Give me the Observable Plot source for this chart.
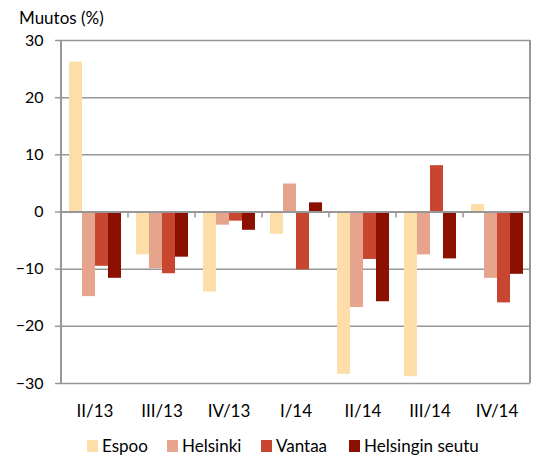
<!DOCTYPE html>
<html><head><meta charset="utf-8">
<script src="https://cdn.jsdelivr.net/npm/d3@7"></script>
<script src="https://cdn.jsdelivr.net/npm/@observablehq/plot@0.6"></script>
<style>
body{margin:0;background:#fff;font-family:Lato,sans-serif;width:538px;color:#000;}
#title{height:30px;position:relative;}
#title span{position:absolute;left:19px;top:8px;font-size:17px;line-height:20px;}
#legend{height:32px;position:relative;}
#legend .item{position:absolute;top:11px;display:flex;align-items:center;font-size:17px;line-height:20px;}
#legend .sw{width:11px;height:12px;margin-right:4px;}
</style></head><body>
<div id="title"><span>Muutos (%)</span></div>
<div id="chart"></div>
<div id="legend"></div>
<script>
const quarters = ["II/13","III/13","IV/13","I/14","II/14","III/14","IV/14"];
const series = ["Espoo","Helsinki","Vantaa","Helsingin seutu"];
const espoo = [26.2,-7.5,-14.0,-3.9,-28.4,-28.8,1.3];
const helsinki = [-14.8,-9.9,-2.3,4.9,-16.7,-7.5,-11.6];
const vantaa = [-9.5,-10.8,-1.6,-10.1,-8.3,8.1,-15.9];
const seutu = [-11.6,-7.9,-3.2,1.6,-15.7,-8.2,-10.9];
const colors = ["#FDDEA8","#E5A48B","#C8462F","#8B1000"];
const yTicks = [-30,-20,-10,0,10,20,30];

const seriesValues = [espoo, helsinki, vantaa, seutu];
const data = quarters.flatMap((q,i)=>series.map((s,j)=>({quarter:q, series:s, value:seriesValues[j][i]})));

const grid = "#979797";
const plot = Plot.plot({
  width:538, height:395, marginTop:10, marginBottom:42, marginLeft:61, marginRight:8,
  style:{fontFamily:"Lato, sans-serif", fontSize:"17px", color:"#000", background:"#fff", overflow:"visible"},
  fx:{domain:quarters, padding:0, label:null},
  x:{domain:series, paddingInner:0, paddingOuter:0.48, axis:null},
  y:{domain:[-30,30], ticks:yTicks, label:null},
  color:{domain:series, range:colors},
  marks:[
    Plot.ruleY(yTicks.filter(d=>d!==0), {stroke:grid, strokeWidth:1.5}),
    Plot.barY(data, {fx:"quarter", x:"series", y:"value", fill:"series"}),
    Plot.ruleY([0], {stroke:grid, strokeWidth:2}),
    Plot.axisY(yTicks, {tickSize:6, tickPadding:12, stroke:grid, strokeWidth:1.5, fontSize:16, label:null}),
    Plot.axisFx({anchor:"bottom", tickSize:0, tickPadding:21, fontSize:17, label:null})
  ]
});
document.getElementById("chart").appendChild(plot);

const fx = plot.scale("fx"), y = plot.scale("y");
const svg = d3.select(plot.tagName.toLowerCase()==="svg" ? plot : plot.querySelector("svg"));
const y0 = y.apply(0), yTop = y.apply(30), yBot = y.apply(-30);
const [r0, r1] = fx.range;
const g = svg.append("g").attr("stroke", grid).attr("fill","none");
g.append("line").attr("x1",r0).attr("x2",r0).attr("y1",yTop).attr("y2",yBot).attr("stroke-width",2);
g.append("line").attr("x1",r1).attr("x2",r1).attr("y1",yTop).attr("y2",yBot).attr("stroke-width",2);
quarters.slice(1).forEach(q=>{
  const x = fx.apply(q);
  g.append("line").attr("x1",x).attr("x2",x).attr("y1",y0).attr("y2",y0+6).attr("stroke-width",1.5);
});

const legendX = [87,167,261,349];
const legend = document.getElementById("legend");
series.forEach((s,i)=>{
  const it = document.createElement("div");
  it.className="item"; it.style.left = legendX[i]+"px";
  it.innerHTML = `<div class="sw" style="background:${colors[i]}"></div><span>${s}</span>`;
  legend.appendChild(it);
});
</script>
</body></html>
